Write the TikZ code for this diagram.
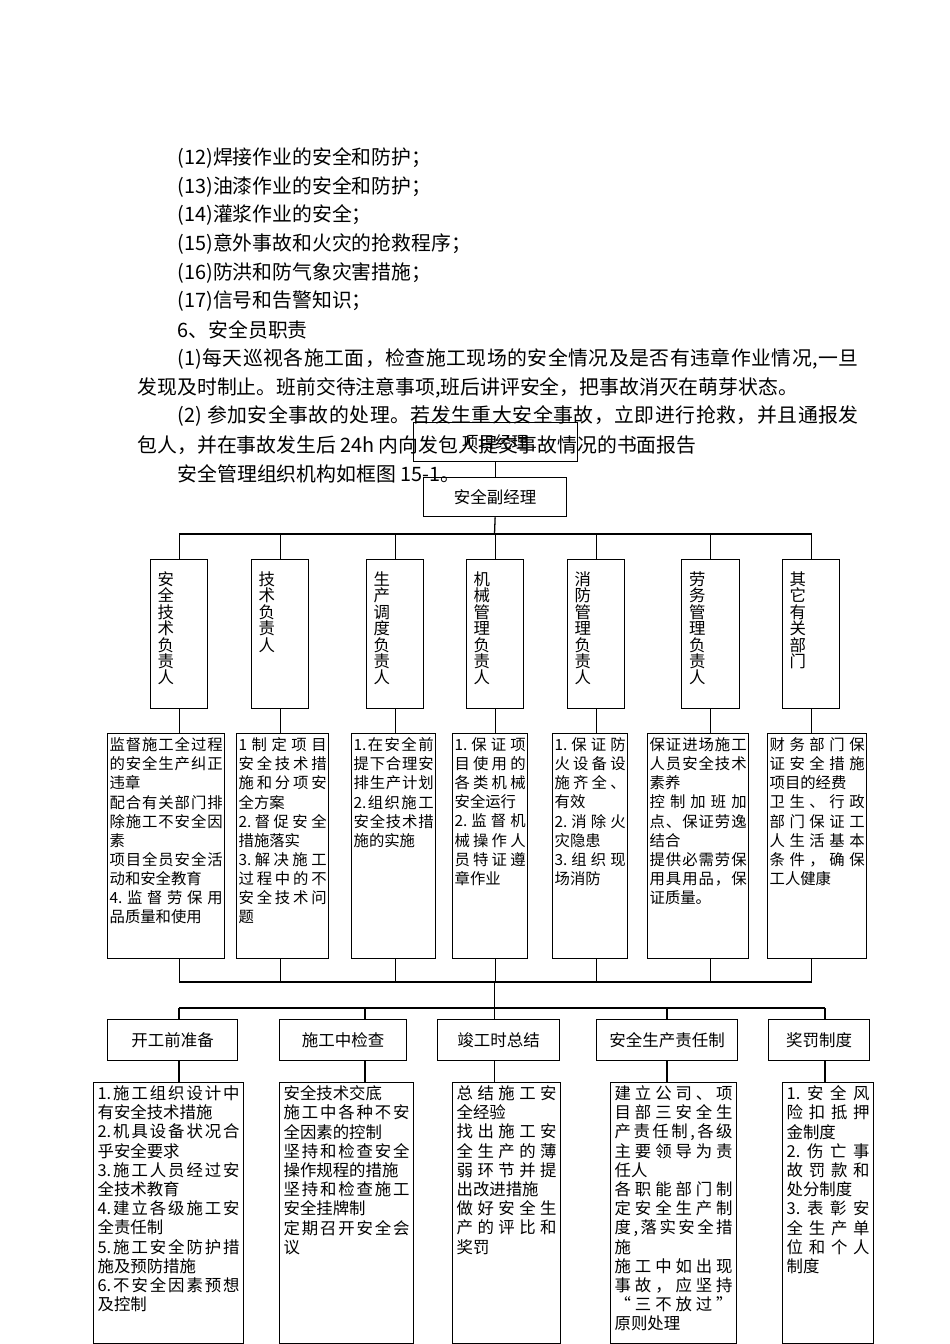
\documentclass[tikz,border=0pt]{standalone}
\usepackage{fontspec}
\setmainfont{Noto Sans CJK SC}

\newdimen\pxu \pxu=0.625pt
% one line spread over the whole width
\def\jnext#1{\ifx\relax#1\unskip\else\hbox{#1}\hskip0pt plus 1fil\relax\expandafter\jnext\fi}
\def\vnext#1{\ifx\relax#1\else\hbox{#1}\expandafter\vnext\fi}
\newcommand\jline[1]{\hbox to\hsize{\jnext#1\relax}}
\newcommand\nline[1]{\hbox{#1}}
\newcommand\spreadto[2]{\hbox to #1{\jnext#2\relax}}
\newcommand\boxtext[3]{\vbox to #1\pxu{\hsize=#2\pxu\relax #3\vfil}}
\newcommand\vtext[1]{\hbox to 43\pxu{\vbox to 125\pxu{\vnext#1\relax\vfil}\hfil}}

\begin{document}
\begin{tikzpicture}[x=0.625pt, y=-0.625pt, line width=0.8pt,
    bodytext/.style={anchor=west, inner sep=0pt, font=\fontsize{12.4}{14}\selectfont},
    topbox/.style={draw, anchor=north west, minimum height=39\pxu, inner sep=0pt, font=\fontsize{10.3}{12}\selectfont},
    colbox/.style={draw, anchor=north west, inner xsep=7\pxu, inner ysep=12\pxu, font=\fontsize{10.25}{10.25}\selectfont},
    dutybox/.style={draw, anchor=north west, inner xsep=2\pxu, inner ysep=4\pxu, font=\fontsize{9.6}{11.95}\selectfont},
    headbox/.style={draw, anchor=north west, minimum height=41\pxu, inner sep=0pt, font=\fontsize{10.3}{12}\selectfont},
    rulebox/.style={draw, anchor=north west, inner xsep=4\pxu, inner ysep=3\pxu, font=\fontsize{10.25}{12}\selectfont},
  ]
  \useasboundingbox (0,0) rectangle (950,1344);

  % texto de la pagina
  \node[bodytext] (t1) at (177,158) {(12)焊接作业的安全和防护；};
  \node[bodytext] (t2) at (177,186.7) {(13)油漆作业的安全和防护；};
  \node[bodytext] (t3) at (177,215.4) {(14)灌浆作业的安全；};
  \node[bodytext] (t4) at (177,244.1) {(15)意外事故和火灾的抢救程序；};
  \node[bodytext] (t5) at (177,272.8) {(16)防洪和防气象灾害措施；};
  \node[bodytext] (t6) at (177,301.5) {(17)信号和告警知识；};
  \node[bodytext] (t7) at (177,330.2) {6、安全员职责};
  \node[bodytext] (t8) at (177,358.9) {\spreadto{681\pxu}{{(1)}每天巡视各施工面，检查施工现场的安全情况及是否有违章作业情况,一旦}};
  \node[bodytext] (t9) at (137,387.6) {发现及时制止。班前交待注意事项,班后讲评安全，把事故消灭在萌芽状态。};
  \node[bodytext] (t10) at (177,416.3) {\spreadto{681\pxu}{{(2)~}参加安全事故的处理。若发生重大安全事故，立即进行抢救，并且通报发}};
  \node[bodytext] (t11) at (137,445) {包人，并在事故发生后 24h 内向发包人提交事故情况的书面报告};
  \node[bodytext] (t12) at (177,473.7) {安全管理组织机构如框图 15-1。};

  % nivel 1
  \node[topbox, minimum width=164\pxu] (pm) at (412.5,422) {项目经理};
  \node[topbox, minimum width=143\pxu] (vpm) at (423,477) {安全副经理};
  \draw (pm.south) -- (vpm.north);

  % nivel 2
  \node[colbox] (c1) at (150,559) {\vtext{安全技术负责人}};
  \node[colbox] (c2) at (251,559) {\vtext{技术负责人}};
  \node[colbox] (c3) at (366,559) {\vtext{生产调度负责人}};
  \node[colbox] (c4) at (466,559) {\vtext{机械管理负责人}};
  \node[colbox] (c5) at (567,559) {\vtext{消防管理负责人}};
  \node[colbox, minimum width=58\pxu] (c6) at (681,559) {\vtext{劳务管理负责人}};
  \node[colbox] (c7) at (782,559) {\vtext{其它有关部门}};

  \coordinate (bus1) at (494.5,534);
  \draw (vpm.south) -- (bus1);
  \draw (c1.north) |- (bus1) -| (c7.north);
  \foreach \i in {2,...,6} \draw (c\i.north) -- (c\i.north |- bus1);

  % nivel 3
  \node[dutybox] (m1) at (107,733) {\boxtext{217}{113}{
    \jline{监督施工全过程}
    \jline{的安全生产纠正}
    \nline{违章}
    \jline{配合有关部门排}
    \jline{除施工不安全因}
    \nline{素}
    \jline{项目全员安全活}
    \nline{动和安全教育}
    \jline{{4.}监督劳保用}
    \nline{品质量和使用}}};
  \node[dutybox] (m2) at (236,733) {\boxtext{217}{88}{
    \jline{1制定项目}
    \jline{安全技术措}
    \jline{施和分项安}
    \nline{全方案}
    \jline{{2.}督促安全}
    \nline{措施落实}
    \jline{{3.}解决施工}
    \jline{过程中的不}
    \jline{安全技术问}
    \nline{题}}};
  \node[dutybox] (m3) at (351,733) {\boxtext{217}{80}{
    \jline{{1.}在安全前}
    \jline{提下合理安}
    \jline{排生产计划}
    \jline{{2.}组织施工}
    \jline{安全技术措}
    \nline{施的实施}}};
  \node[dutybox] (m4) at (452,733) {\boxtext{217}{71}{
    \jline{{1.}保证项}
    \jline{目使用的}
    \jline{各类机械}
    \nline{安全运行}
    \jline{{2.}监督机}
    \jline{械操作人}
    \jline{员特证遵}
    \nline{章作业}}};
  \node[dutybox] (m5) at (552,733) {\boxtext{217}{71}{
    \jline{{1.}保证防}
    \jline{火设备设}
    \jline{施齐全、}
    \nline{有效}
    \jline{{2.}消除火}
    \nline{灾隐患}
    \jline{{3.}组织现}
    \nline{场消防}}};
  \node[dutybox] (m6) at (647,733) {\boxtext{217}{97}{
    \jline{保证进场施工}
    \jline{人员安全技术}
    \nline{素养}
    \jline{控制加班加}
    \jline{点、保证劳逸}
    \nline{结合}
    \jline{提供必需劳保}
    \jline{用具用品，保}
    \nline{证质量。}}};
  \node[dutybox] (m7) at (767,733) {\boxtext{217}{95}{
    \jline{财务部门保}
    \jline{证安全措施}
    \nline{项目的经费}
    \jline{卫生、行政}
    \jline{部门保证工}
    \jline{人生活基本}
    \jline{条件，确保}
    \nline{工人健康}}};

  \foreach \i in {1,...,7} \draw (c\i.south) -- (c\i.south |- m\i.north);

  \coordinate (bus2) at (494.5,982);
  \coordinate (bus3) at (494.5,1008);
  \draw (c1.south |- m1.south) |- (bus2) -| (c7.south |- m7.south);
  \foreach \i in {2,...,6} \draw (c\i.south |- m\i.south) -- (c\i.south |- bus2);
  \draw (bus2) -- (bus3);

  % nivel 4
  \node[headbox, minimum width=130\pxu] (h1) at (107,1019) {开工前准备};
  \node[headbox, minimum width=127\pxu] (h2) at (279,1019) {施工中检查};
  \node[headbox, minimum width=122\pxu] (h3) at (437,1019) {竣工时总结};
  \node[headbox, minimum width=141\pxu] (h4) at (596,1019) {安全生产责任制};
  \node[headbox, minimum width=101\pxu] (h5) at (768,1019) {奖罚制度};

  % nivel 5
  \node[rulebox] (b1) at (93,1082) {\boxtext{255}{142}{
    \jline{{1.}施工组织设计中}
    \nline{有安全技术措施}
    \jline{{2.}机具设备状况合}
    \nline{乎安全要求}
    \jline{{3.}施工人员经过安}
    \nline{全技术教育}
    \jline{{4.}建立各级施工安}
    \nline{全责任制}
    \jline{{5.}施工安全防护措}
    \nline{施及预防措施}
    \jline{{6.}不安全因素预想}
    \nline{及控制}}};
  \node[rulebox] (b2) at (279,1082) {\boxtext{255}{126}{
    \nline{安全技术交底}
    \jline{施工中各种不安}
    \nline{全因素的控制}
    \jline{坚持和检查安全}
    \nline{操作规程的措施}
    \jline{坚持和检查施工}
    \nline{安全挂牌制}
    \jline{定期召开安全会}
    \nline{议}}};
  \node[rulebox] (b3) at (452,1082) {\boxtext{255}{100}{
    \jline{总结施工安}
    \nline{全经验}
    \jline{找出施工安}
    \jline{全生产的薄}
    \jline{弱环节并提}
    \nline{出改进措施}
    \jline{做好安全生}
    \jline{产的评比和}
    \nline{奖罚}}};
  \node[rulebox] (b4) at (610,1082) {\boxtext{255}{118}{
    \jline{建立公司、项}
    \jline{目部三安全生}
    \jline{产责任制,各级}
    \jline{主要领导为责}
    \nline{任人}
    \jline{各职能部门制}
    \jline{定安全生产制}
    \jline{度,落实安全措}
    \nline{施}
    \jline{施工中如出现}
    \jline{事故，应坚持}
    \jline{“三不放过”}
    \nline{原则处理}}};
  \node[rulebox] (b5) at (782,1082) {\boxtext{255}{83}{
    \jline{{1.}安全风}
    \jline{险扣抵押}
    \nline{金制度}
    \jline{{2.}伤亡事}
    \jline{故罚款和}
    \nline{处分制度}
    \jline{{3.}表彰安}
    \jline{全生产单}
    \jline{位和个人}
    \nline{制度}}};

  \coordinate (s1) at (179,1008);
  \coordinate (s2) at (365,1008);
  \coordinate (s3) at (494.5,1008);
  \coordinate (s4) at (667,1008);
  \coordinate (s5) at (825,1008);
  \draw (s1) -- (s5);
  \foreach \i in {1,...,5} {
    \draw (s\i) -- (s\i |- h\i.north);
    \draw (s\i |- h\i.south) -- (s\i |- b\i.north);
  }
\end{tikzpicture}
\end{document}
